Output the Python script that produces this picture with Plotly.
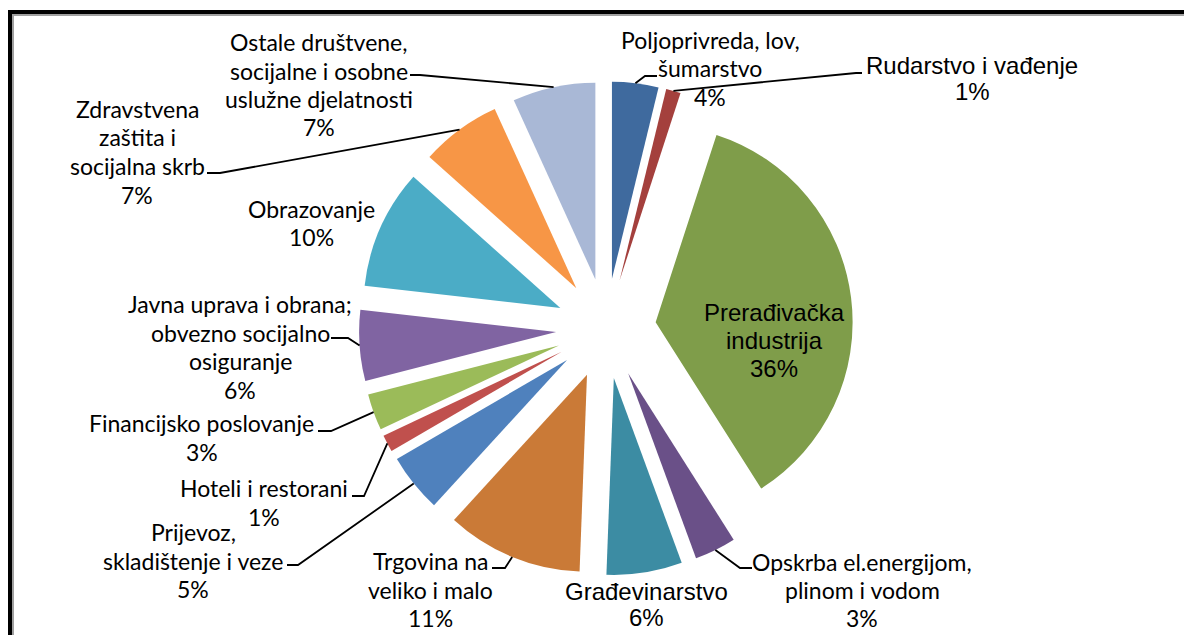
import math
import plotly.graph_objects as go

W, H = 1192, 635
OFF = 8  # page body margin: figure is drawn 8px right/down in the screenshot

# ---------------- data ----------------
categories = [
    "Poljoprivreda, lov, šumarstvo",
    "Rudarstvo i vađenje",
    "Prerađivačka industrija",
    "Opskrba el.energijom, plinom i vodom",
    "Građevinarstvo",
    "Trgovina na veliko i malo",
    "Prijevoz, skladištenje i veze",
    "Hoteli i restorani",
    "Financijsko poslovanje",
    "Javna uprava i obrana; obvezno socijalno osiguranje",
    "Obrazovanje",
    "Zdravstvena zaštita i socijalna skrb",
    "Ostale društvene, socijalne i osobne uslužne djelatnosti",
]
shares = [3.8, 1.2, 36.0, 3.4, 6.2, 11.2, 4.8, 1.4, 3.0, 5.8, 9.8, 6.6, 6.8]
pct_labels = ["4%", "1%", "36%", "3%", "6%", "11%", "5%", "1%", "3%", "6%", "10%", "7%", "7%"]
label_lines = [
    ["Poljoprivreda, lov,", "šumarstvo"],
    ["Rudarstvo i vađenje"],
    ["Prerađivačka", "industrija"],
    ["Opskrba el.energijom,", "plinom i vodom"],
    ["Građevinarstvo"],
    ["Trgovina na", "veliko i malo"],
    ["Prijevoz,", "skladištenje i veze"],
    ["Hoteli i restorani"],
    ["Financijsko poslovanje"],
    ["Javna uprava i obrana;", "obvezno socijalno", "osiguranje"],
    ["Obrazovanje"],
    ["Zdravstvena", "zaštita i", "socijalna skrb"],
    ["Ostale društvene,", "socijalne i osobne", "uslužne djelatnosti"],
]

# ---------------- style / layout ----------------
colors = ["#3F6A9E", "#A4403D", "#7F9D4A", "#6A5088", "#3C8CA3", "#CA7A37",
          "#4F81BD", "#C0504D", "#9BBB59", "#8064A2", "#4BACC6", "#F79646", "#A9B8D6"]
PULL = 0.254
CX, CY, HALF = 606.0, 328.5, 247.0   # pie box centre and half-size (screenshot px)

CAL = "Lato"
ARI = "Liberation Sans, Arial"
CS, AS = 23, 24
# label placement: centre x, first-line y, line spacing, font family, size
label_pos = [
    (710, 40, 28.5, CAL, CS),
    (972, 66, 25.5, ARI, AS),
    (774, 312, 28, ARI, AS),
    (862, 562, 28, CAL, CS),
    (646, 591, 26.5, ARI, AS),
    (430, 561, 28.5, CAL, CS),
    (193, 532, 28.5, CAL, CS),
    (264, 488, 29, CAL, CS),
    (202, 423, 29, CAL, CS),
    (240, 304, 28.5, CAL, CS),
    (311, 209, 28, CAL, CS),
    (137, 109, 28.5, CAL, CS),
    (319, 42, 28.5, CAL, CS),
]
# leader line: text-side start and elbow (px); slice end computed from geometry
leaders = [
    ((657, 76), (645, 76)),
    ((862, 73), (856, 73)),
    None,
    ((752, 568), (740, 568)),
    None,
    ((492, 568), (505, 568)),
    ((287, 565), (298, 565)),
    ((352, 496), (364, 496)),
    ((318, 431), (331, 431)),
    ((331, 338), (348, 338)),
    None,
    ((207, 173), (220, 173)),
    ((410, 75), (420, 75)),
]


def px(x):
    return (x - OFF) / W


def py(y):
    return 1 - (y - OFF) / H


fig = go.Figure(go.Pie(
    labels=categories,
    values=shares,
    sort=False,
    direction="clockwise",
    rotation=0,
    pull=[PULL] * len(shares),
    marker=dict(colors=colors, line=dict(width=0)),
    textinfo="none",
    hoverinfo="label+percent",
    domain=dict(x=[px(CX - HALF), px(CX + HALF)], y=[py(CY + HALF), py(CY - HALF)]),
))

annotations = []
for lines, pct, (lx, ly, sp, fam, fs) in zip(label_lines, pct_labels, label_pos):
    for k, t in enumerate(lines + [pct]):
        annotations.append(dict(
            x=px(lx), y=py(ly + k * sp), xref="paper", yref="paper",
            text=t, showarrow=False, xanchor="center", yanchor="middle",
            font=dict(family=fam, size=fs, color="#000000"),
        ))

shapes = []
total = sum(shares)
cum = 0.0
for v, ld in zip(shares, leaders):
    mid = (cum + v / 2) / total * 2 * math.pi
    cum += v
    if ld is None:
        continue
    ex = CX + HALF * math.sin(mid)
    ey = CY - HALF * math.cos(mid)
    (sx, sy), (bx, by) = ld
    shapes.append(dict(
        type="path", xref="paper", yref="paper",
        path=f"M {px(sx)} {py(sy)} L {px(bx)} {py(by)} L {px(ex)} {py(ey)}",
        line=dict(color="#000000", width=1.8),
    ))

# chart frame (black with grey inner shadow), visible at top and left
shapes += [
    dict(type="rect", xref="paper", yref="paper", x0=px(8), x1=px(12), y0=0, y1=py(10),
         fillcolor="#000000", line=dict(width=0)),
    dict(type="rect", xref="paper", yref="paper", x0=px(8), x1=1, y0=py(14), y1=py(10),
         fillcolor="#000000", line=dict(width=0)),
    dict(type="rect", xref="paper", yref="paper", x0=px(12), x1=px(14), y0=0, y1=py(14),
         fillcolor="#A0A0A0", line=dict(width=0)),
    dict(type="rect", xref="paper", yref="paper", x0=px(12), x1=1, y0=py(16), y1=py(14),
         fillcolor="#A0A0A0", line=dict(width=0)),
]

fig.update_layout(
    width=W, height=H,
    margin=dict(l=0, r=0, t=0, b=0),
    paper_bgcolor="#FFFFFF", plot_bgcolor="#FFFFFF",
    showlegend=False,
    annotations=annotations,
    shapes=shapes,
)

fig.write_html("out.html")
